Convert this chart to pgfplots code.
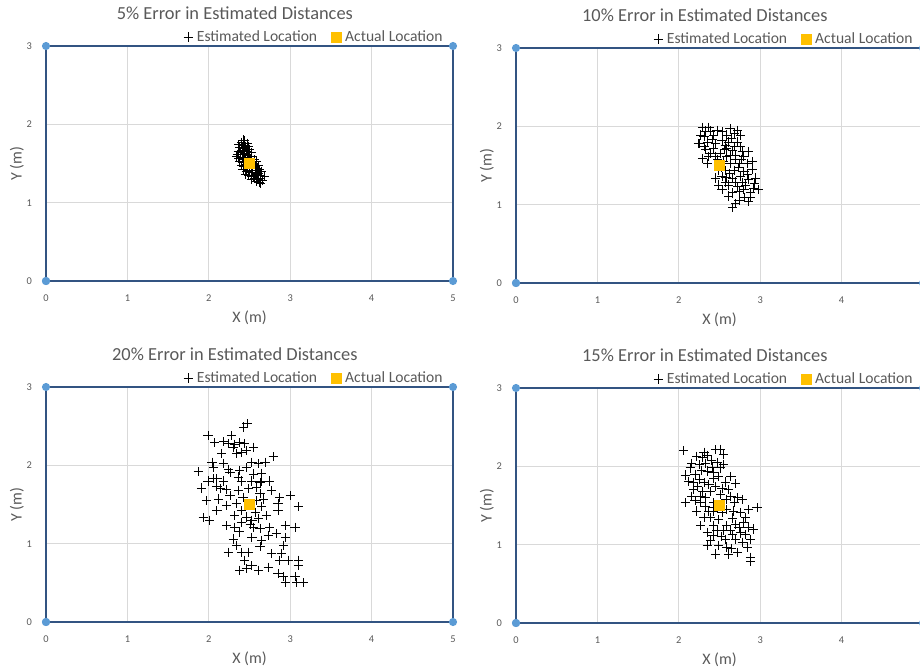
\documentclass[border=0pt]{standalone}
\usepackage{pgfplots}
\pgfplotsset{compat=1.18}
\usepackage{fontspec}
\setmainfont{Carlito}
\definecolor{txtgray}{RGB}{89,89,89}
\definecolor{gridgray}{RGB}{217,217,217}
\definecolor{roomline}{RGB}{50,84,130}
\definecolor{roommark}{RGB}{91,155,213}
\definecolor{actual}{RGB}{255,192,0}

\pgfplotstableread{
x y
0 0
5 0
5 3
0 3
0 0
}\room

\pgfplotstableread{
x y
2.40 1.77
2.44 1.79
2.47 1.76
2.42 1.73
2.38 1.70
2.45 1.71
2.49 1.72
2.36 1.66
2.41 1.67
2.46 1.66
2.50 1.68
2.35 1.62
2.39 1.61
2.44 1.63
2.48 1.62
2.52 1.64
2.37 1.57
2.41 1.56
2.45 1.58
2.49 1.57
2.53 1.59
2.56 1.55
2.38 1.52
2.42 1.51
2.46 1.53
2.55 1.50
2.59 1.52
2.40 1.47
2.44 1.46
2.48 1.44
2.53 1.45
2.57 1.46
2.61 1.47
2.42 1.42
2.46 1.40
2.50 1.41
2.54 1.39
2.58 1.41
2.62 1.42
2.45 1.36
2.49 1.35
2.53 1.34
2.57 1.36
2.61 1.37
2.64 1.35
2.52 1.30
2.56 1.31
2.60 1.30
2.63 1.31
2.58 1.27
2.62 1.26
2.66 1.29
2.43 1.69
2.51 1.54
2.47 1.49
2.59 1.39
2.55 1.33
2.39 1.64
2.50 1.46
2.65 1.40
2.37 1.74
2.43 1.55
2.60 1.44
2.47 1.60
2.34 1.59
2.68 1.33
2.64 1.24
2.42 1.80
}\pfive

\pgfplotstableread{
x y
2.29 1.99
2.39 1.94
2.27 1.89
2.53 1.93
2.63 1.97
2.72 1.95
2.76 1.89
2.43 1.89
2.59 1.89
2.25 1.78
2.35 1.80
2.45 1.78
2.53 1.82
2.61 1.80
2.72 1.80
2.33 1.70
2.43 1.72
2.59 1.72
2.68 1.74
2.78 1.68
2.86 1.68
2.29 1.59
2.37 1.61
2.59 1.61
2.70 1.63
2.80 1.61
2.90 1.55
2.35 1.53
2.63 1.53
2.74 1.53
2.84 1.53
2.57 1.44
2.68 1.44
2.80 1.42
2.53 1.36
2.66 1.34
2.76 1.36
2.86 1.32
2.94 1.34
2.49 1.25
2.61 1.25
2.72 1.23
2.82 1.25
2.92 1.21
2.98 1.19
2.53 1.19
2.66 1.15
2.88 1.15
2.61 1.11
2.74 1.06
2.86 1.04
2.88 1.09
2.66 0.96
2.80 1.19
2.49 1.44
2.45 1.34
2.55 1.55
2.76 1.74
2.39 1.65
2.51 1.65
2.31 1.87
2.37 1.99
2.24 1.78
2.65 1.85
2.70 1.58
2.62 1.40
2.78 1.28
2.56 1.70
2.33 1.94
2.47 1.95
2.68 1.91
2.41 1.83
2.57 1.76
2.66 1.69
2.48 1.58
2.73 1.47
2.63 1.63
2.77 1.58
2.58 1.35
2.69 1.29
2.84 1.38
2.74 1.17
2.93 1.27
2.57 1.28
2.81 1.09
2.70 1.01
2.45 1.62
2.31 1.74
2.52 1.47
2.90 1.45
}\pten

\pgfplotstableread{
x y
2.06 2.20
2.45 2.21
2.51 2.22
2.55 2.15
2.22 2.13
2.29 2.11
2.35 2.14
2.16 2.04
2.25 2.02
2.33 2.04
2.47 2.05
2.55 2.02
2.08 1.89
2.20 1.90
2.35 1.94
2.43 1.85
2.49 1.87
2.64 1.87
2.31 1.79
2.70 1.78
2.18 1.70
2.29 1.68
2.39 1.68
2.53 1.72
2.61 1.70
2.16 1.62
2.33 1.60
2.08 1.54
2.20 1.56
2.43 1.54
2.72 1.60
2.78 1.58
2.96 1.47
2.22 1.43
2.37 1.43
2.43 1.43
2.43 1.47
2.59 1.45
2.76 1.41
2.86 1.45
2.31 1.35
2.49 1.32
2.66 1.34
2.82 1.35
2.27 1.24
2.43 1.24
2.59 1.24
2.74 1.22
2.92 1.20
2.35 1.16
2.47 1.18
2.66 1.13
2.82 1.13
2.39 1.05
2.57 1.07
2.70 1.07
2.78 1.03
2.88 1.07
2.35 0.99
2.49 0.99
2.84 0.97
2.59 0.97
2.45 0.88
2.61 0.88
2.72 0.90
2.88 0.84
2.88 0.79
2.12 1.81
2.18 1.79
2.51 1.98
2.41 1.98
2.27 1.54
2.39 1.35
2.53 1.41
2.70 1.26
2.55 1.18
2.64 1.62
2.25 1.83
2.37 1.77
2.51 1.64
2.68 1.54
2.14 1.98
2.31 2.18
2.40 2.08
2.28 1.95
2.42 1.92
2.57 1.80
2.23 1.74
2.45 1.74
2.26 1.62
2.58 1.58
2.33 1.49
2.48 1.50
2.67 1.43
2.80 1.28
2.63 1.18
2.52 1.10
2.76 1.15
2.65 0.95
2.42 1.12
2.85 1.22
}\pfifteen

\pgfplotstableread{
x y
2.47 2.53
2.43 2.49
1.99 2.38
2.07 2.29
2.28 2.38
2.18 2.30
2.24 2.28
2.32 2.27
2.38 2.29
2.44 2.28
2.30 2.23
2.34 2.15
2.40 2.16
2.46 2.19
2.16 2.15
2.55 2.23
2.79 2.11
2.04 2.04
2.06 1.97
2.18 2.02
2.24 1.95
2.38 1.93
2.53 2.04
2.61 2.02
2.69 2.04
1.87 1.92
1.99 1.80
2.06 1.83
2.18 1.80
1.91 1.71
2.10 1.73
2.14 1.70
2.22 1.69
2.36 1.85
2.40 1.80
2.55 1.89
2.65 1.90
2.65 1.80
2.75 1.80
2.49 1.70
2.59 1.72
2.36 1.68
2.77 1.68
1.97 1.55
2.22 1.49
2.67 1.57
2.87 1.59
3.00 1.61
2.85 1.51
3.10 1.47
2.10 1.42
2.32 1.36
1.93 1.33
2.01 1.30
2.40 1.42
2.57 1.40
2.65 1.47
2.85 1.42
2.22 1.23
2.32 1.21
2.51 1.25
2.55 1.21
2.63 1.19
2.75 1.21
2.38 1.15
2.73 1.10
2.83 1.13
2.94 1.23
3.06 1.21
2.94 1.08
2.30 1.06
2.53 1.08
2.65 1.04
2.34 0.98
2.92 0.98
2.24 0.89
2.40 0.89
2.49 0.89
2.63 0.96
2.77 0.87
2.89 0.87
2.87 0.79
2.98 0.79
3.10 0.79
3.10 0.72
2.44 0.79
2.53 0.72
2.38 0.66
2.46 0.68
2.61 0.66
2.73 0.70
2.85 0.62
2.92 0.58
2.94 0.51
3.08 0.50
3.16 0.50
3.06 0.58
2.46 1.34
2.53 1.30
2.61 1.32
2.40 1.27
2.71 1.36
2.59 1.55
2.63 1.64
2.42 1.59
2.34 1.51
2.26 1.61
2.12 1.57
2.10 1.83
2.26 1.91
2.46 1.97
2.63 1.78
2.53 1.80
}\ptwenty

\pgfplotsset{
  myax/.style={
    scale only axis,
    width=203.5pt, height=117.5pt,
    xmin=0, xmax=5, ymin=0, ymax=3,
    xtick={0,1,2,3,4,5}, ytick={0,1,2,3},
    grid=major,
    major grid style={draw=gridgray, line width=0.5pt},
    axis line style={draw=none},
    tick style={draw=none},
    clip=false,
    tick label style={font=\fontsize{5.2}{6}\selectfont, text=txtgray},
    /pgf/number format/assume math mode=true,
    xticklabel style={yshift=-3.5pt},
    yticklabel style={xshift=-3.5pt},
    xlabel={X (m)}, ylabel={Y (m)},
    label style={font=\fontsize{8}{9}\selectfont, text=txtgray},
    xlabel style={at={(axis description cs:0.5,0)}, anchor=center, yshift=-18.5pt},
    ylabel style={at={(axis description cs:0,0.5)}, anchor=center, yshift=14.5pt},
    title style={at={(axis description cs:0.464,1)}, anchor=center, yshift=10.5pt,
      font=\fontsize{9.2}{10.5}\selectfont, text=txtgray},
    legend columns=2,
    legend style={at={(axis description cs:0.985,1)}, anchor=south east,
      yshift=-1.2pt, draw=none, fill=none, inner sep=0pt,
      font=\fontsize{7.8}{9}\selectfont, text=txtgray,
      /tikz/every even column/.append style={column sep=5pt}},
    legend image code/.code={\draw[mark repeat=2,mark phase=2] plot coordinates {(0cm,0cm) (0.1cm,0cm) (0.2cm,0cm)};},
  },
  est/.style={only marks, mark=+, mark size=2.3pt, draw=black, mark options={line width=0.45pt, draw=black}},
  act/.style={only marks, mark=square*, mark size=2.5pt, mark options={fill=actual, draw=actual}},
  roomst/.style={roomline, line width=1pt, mark=*, mark size=1.5pt, mark options={fill=roommark, draw=roommark}},
}

\begin{document}
\begin{tikzpicture}
\useasboundingbox (0,0) rectangle (460pt,-335pt);
\clip (0,0) rectangle (460pt,-335pt);

% Panel 1: 5%
\begin{axis}[myax, at={(23pt,-140.5pt)}, anchor=south west,
  title={5\% Error in Estimated Distances}]
\addplot[roomst, forget plot] table {\room};
\addplot[est] table {\pfive};
\addlegendentry{Estimated Location}
\addplot[act] coordinates {(2.5,1.5)};
\addlegendentry{Actual Location}
\end{axis}

% Panel 2: 10%
\begin{axis}[myax, at={(258pt,-141.5pt)}, anchor=south west,
  title={10\% Error in Estimated Distances}]
\addplot[roomst, forget plot] table {\room};
\addplot[est] table {\pten};
\addlegendentry{Estimated Location}
\addplot[act] coordinates {(2.5,1.5)};
\addlegendentry{Actual Location}
\end{axis}

% Panel 3: 20%
\begin{axis}[myax, at={(23pt,-311pt)}, anchor=south west,
  title={20\% Error in Estimated Distances}]
\addplot[roomst, forget plot] table {\room};
\addplot[est] table {\ptwenty};
\addlegendentry{Estimated Location}
\addplot[act] coordinates {(2.5,1.5)};
\addlegendentry{Actual Location}
\end{axis}

% Panel 4: 15%
\begin{axis}[myax, at={(258pt,-311.5pt)}, anchor=south west,
  title={15\% Error in Estimated Distances}]
\addplot[roomst, forget plot] table {\room};
\addplot[est] table {\pfifteen};
\addlegendentry{Estimated Location}
\addplot[act] coordinates {(2.5,1.5)};
\addlegendentry{Actual Location}
\end{axis}
\end{tikzpicture}
\end{document}
